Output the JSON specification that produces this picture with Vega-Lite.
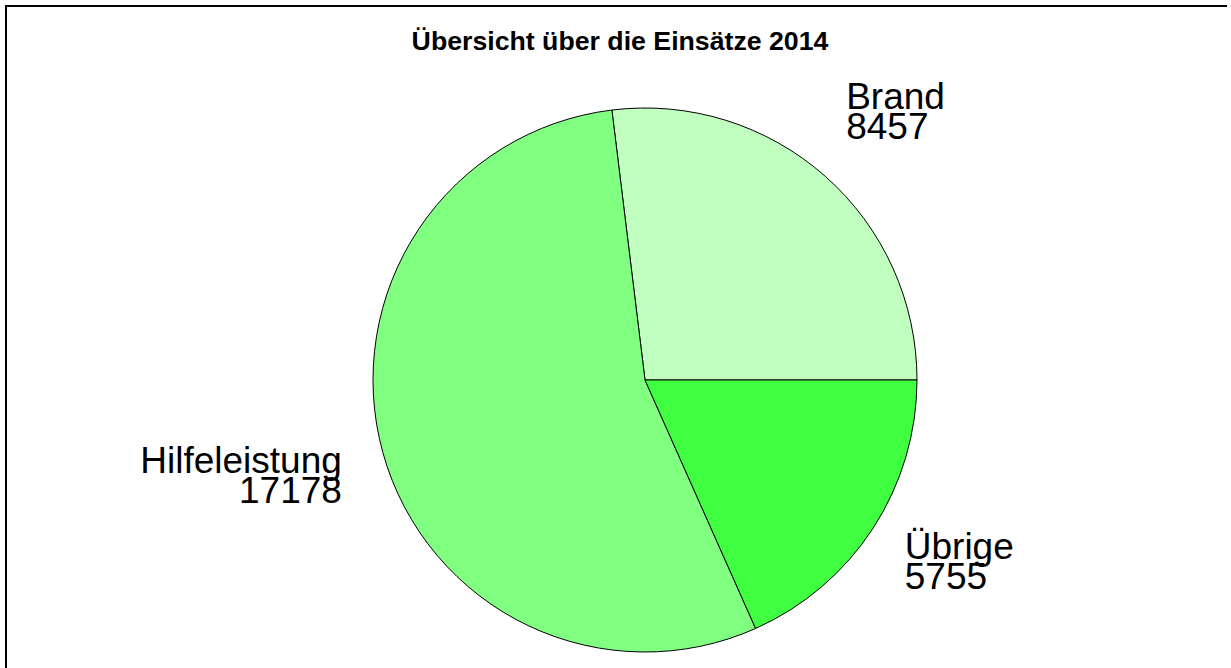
{
  "$schema": "https://vega.github.io/schema/vega-lite/v6.json",
  "width": 1231,
  "height": 668,
  "autosize": {"type": "fit", "contains": "padding"},
  "padding": {"left": 6, "top": 6, "right": -53, "bottom": -86},
  "background": "white",
  "view": {"stroke": "black", "strokeWidth": 2, "fill": "white", "strokeDash": [1221, 1885, 4000]},
  "title": {
    "text": "Übersicht über die Einsätze 2014",
    "font": "Liberation Sans",
    "fontSize": 26.7,
    "fontWeight": "bold",
    "color": "black",
    "anchor": "middle",
    "baseline": "alphabetic",
    "offset": 0,
    "dy": 71,
    "dx": -25
  },
  "data": {
    "values": [
      {"name": "Brand", "value": 8457, "ord": 1},
      {"name": "Hilfeleistung", "value": 17178, "ord": 2},
      {"name": "Übrige", "value": 5755, "ord": 3}
    ]
  },
  "encoding": {
    "theta": {
      "field": "value",
      "type": "quantitative",
      "stack": true,
      "scale": {"range": [1.5707963, -4.712389]}
    },
    "order": {"field": "ord", "type": "quantitative"}
  },
  "layer": [
    {
      "mark": {"type": "arc", "outerRadius": 272, "stroke": "black", "strokeWidth": 1},
      "encoding": {
        "color": {
          "field": "name",
          "type": "nominal",
          "scale": {
            "domain": ["Brand", "Hilfeleistung", "Übrige"],
            "range": ["#C0FFC0", "#80FF80", "#40FF40"]
          },
          "legend": null
        }
      }
    },
    {
      "mark": {
        "type": "text",
        "radius": 299,
        "font": "Liberation Sans",
        "fontSize": 37,
        "lineHeight": 30,
        "baseline": "alphabetic",
        "color": "black",
        "align": {"expr": "datum.name === 'Hilfeleistung' ? 'right' : 'left'"},
        "dx": {"expr": "datum.name === 'Brand' ? 3 : datum.name === 'Hilfeleistung' ? -15 : 9"},
        "dy": {"expr": "datum.name === 'Brand' ? -47 : datum.name === 'Hilfeleistung' ? 13 : 16"},
        "text": {"expr": "[datum.name, '' + datum.value]"}
      },
      "encoding": {
        "detail": {"field": "name", "type": "nominal"}
      }
    }
  ]
}
